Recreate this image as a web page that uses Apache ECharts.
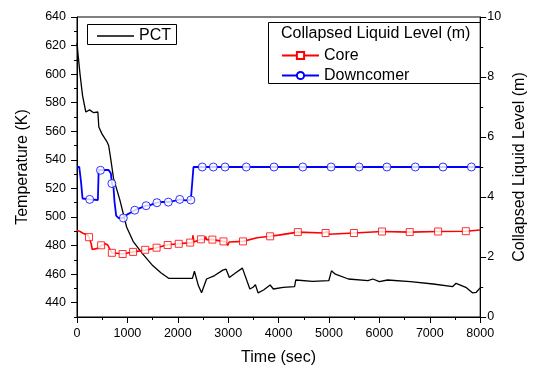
<!DOCTYPE html>
<html>
<head>
<meta charset="utf-8">
<script src="https://cdn.jsdelivr.net/npm/echarts@6/dist/echarts.min.js"></script>
<style>
html,body{margin:0;padding:0;background:#fff;}
#chart{width:536px;height:371px;}
</style>
</head>
<body>
<div id="chart"></div>
<script>
// ---- data ----
const pctTime = [0, 20, 60, 110, 175, 250, 330, 414, 433, 498, 590, 628, 660, 725, 850, 984, 1113, 1307, 1502, 1664, 1825, 2019, 2290, 2311, 2330, 2408, 2472, 2570, 2731, 2893, 2958, 3023, 3150, 3282, 3430, 3500, 3540, 3592, 3702, 3832, 3896, 4091, 4317, 4340, 4673, 4700, 4996, 5049, 5126, 5385, 5773, 5870, 6000, 6162, 6615, 6630, 6650, 7068, 7456, 7521, 7715, 7845, 7922, 8000];
const pctTemp = [622, 614, 600, 585, 573.5, 575, 573, 573.5, 563, 558, 553, 550, 543, 527, 512, 493, 483, 474, 466, 461, 457, 457, 457, 456.5, 462, 452, 447, 456.6, 459, 462.8, 463.5, 457.7, 461, 464.2, 449.6, 451, 452.7, 446.9, 448.9, 452.4, 449.6, 450.8, 451.3, 455.9, 455, 456, 455.4, 462.3, 460, 456.6, 455.4, 456.6, 454.7, 455.9, 454.7, 453.5, 455, 453.1, 451.3, 453.6, 450.8, 446.9, 447.3, 450.4];

const coreTime = [0, 60, 142, 200, 239, 280, 304, 330, 380, 430, 466, 520, 563, 610, 640, 660, 692, 906, 1113, 1359, 1579, 1799, 2019, 2246, 2290, 2300, 2320, 2459, 2530, 2550, 2570, 2686, 2906, 2950, 2990, 3020, 3294, 3573, 3832, 4000, 4382, 4900, 4960, 5000, 5495, 6052, 6602, 7165, 7715, 8000];
const coreLevel = [2.88, 2.85, 2.77, 2.75, 2.66, 2.45, 2.25, 2.23, 2.28, 2.30, 2.37, 2.42, 2.44, 2.40, 2.38, 2.23, 2.14, 2.10, 2.17, 2.23, 2.31, 2.41, 2.44, 2.48, 2.47, 2.72, 2.50, 2.59, 2.57, 2.68, 2.58, 2.58, 2.52, 2.50, 2.39, 2.50, 2.52, 2.64, 2.69, 2.73, 2.83, 2.80, 2.85, 2.76, 2.80, 2.85, 2.83, 2.85, 2.86, 2.90];
const coreMarkTime = [239, 479, 692, 906, 1113, 1353, 1579, 1799, 2019, 2246, 2459, 2686, 2906, 3294, 3832, 4382, 4932, 5495, 6052, 6602, 7165, 7715];
const coreMarkLevel = [2.66, 2.39, 2.14, 2.10, 2.17, 2.24, 2.31, 2.40, 2.44, 2.48, 2.59, 2.58, 2.52, 2.52, 2.69, 2.83, 2.80, 2.80, 2.85, 2.83, 2.85, 2.86];

const downTime = [0, 45, 80, 110, 123, 250, 414, 430, 466, 628, 650, 673, 692, 725, 744, 777, 822, 919, 1000, 1081, 1146, 1372, 1450, 1586, 1700, 1812, 1950, 2039, 2150, 2259, 2291, 2311, 2350, 2485, 8000];
const downLevel = [5.0, 5.0, 4.5, 3.95, 3.92, 3.92, 3.90, 4.90, 4.89, 4.90, 4.85, 4.78, 4.45, 4.30, 3.85, 3.38, 3.30, 3.30, 3.42, 3.49, 3.56, 3.71, 3.73, 3.81, 3.84, 3.83, 3.88, 3.92, 3.89, 3.90, 3.91, 5.00, 4.96, 5.0, 5.0];
const downMarkTime = [252, 466, 692, 919, 1146, 1372, 1586, 1812, 2039, 2259, 2485, 2705, 2938, 3359, 3909, 4479, 5042, 5598, 6149, 6712, 7262, 7825];
const downMarkLevel = [3.92, 4.89, 4.45, 3.30, 3.56, 3.71, 3.81, 3.83, 3.92, 3.90, 5, 5, 5, 5, 5, 5, 5, 5, 5, 5, 5, 5];

// tick values
const tempTicks = [440, 460, 480, 500, 520, 540, 560, 580, 600, 620, 640];
const tempMinorTicks = [430, 450, 470, 490, 510, 530, 550, 570, 590, 610, 630];
const levelTicks = [0, 2, 4, 6, 8, 10];
const timeTicks = [0, 1000, 2000, 3000, 4000, 5000, 6000, 7000, 8000];

const FONT = 'Liberation Sans, Arial, sans-serif';
const RED = '#ff0000', BLUE = '#0000ff';
const zip = (a, b) => a.map((v, i) => [v, b[i]]);

const chart = echarts.init(document.getElementById('chart'), null, {renderer: 'canvas'});
const axisCommon = {
  axisLine: {show: true, lineStyle: {color: '#000', width: 1}},
  axisTick: {show: true, length: 6, lineStyle: {color: '#000', width: 1}},
  axisLabel: {color: '#000', fontSize: 12.5, fontFamily: FONT, formatter: (v) => String(v)},
  splitLine: {show: false},
  nameTextStyle: {color: '#000', fontSize: 16, fontFamily: FONT}
};

const option = {
  animation: false,
  backgroundColor: '#fff',
  grid: {left: 77, right: 48, top: 17, bottom: 50, show: true, borderColor: '#000', borderWidth: 1, backgroundColor: 'transparent'},
  xAxis: Object.assign({}, axisCommon, {
    type: 'value', min: timeTicks[0], max: timeTicks[timeTicks.length - 1], interval: 1000,
    name: 'Time (sec)', nameLocation: 'middle', nameGap: 33,
    axisLabel: Object.assign({}, axisCommon.axisLabel, {margin: 10}),
    minorTick: {show: true, splitNumber: 2, length: 3, lineStyle: {color: '#000'}}
  }),
  yAxis: [
    Object.assign({}, axisCommon, {
      type: 'value', position: 'left', min: 430, max: 640,
      name: 'Temperature (K)', nameLocation: 'middle', nameGap: 46,
      axisTick: {show: true, length: 6, customValues: tempTicks, lineStyle: {color: '#000'}},
      axisLabel: Object.assign({}, axisCommon.axisLabel, {margin: 11, customValues: tempTicks})
    }),
    Object.assign({}, axisCommon, {
      type: 'value', position: 'right', min: levelTicks[0], max: levelTicks[levelTicks.length - 1], interval: 2,
      name: 'Collapsed Liquid Level (m)', nameLocation: 'middle', nameGap: 25,
      axisLabel: Object.assign({}, axisCommon.axisLabel, {margin: 7}),
      minorTick: {show: true, splitNumber: 2, length: 3, lineStyle: {color: '#000'}}
    }),
    {
      type: 'value', position: 'left', min: 430, max: 640,
      axisLine: {show: false}, axisLabel: {show: false}, splitLine: {show: false},
      axisTick: {show: true, length: 3, customValues: tempMinorTicks, lineStyle: {color: '#000'}}
    }
  ],
  legend: [
    {
      data: [{name: 'PCT', icon: 'rect'}], left: 97, top: 28, orient: 'horizontal',
      itemWidth: 37, itemHeight: 1.5, padding: 0,
      textStyle: {color: '#000', fontSize: 16, fontFamily: FONT}
    },
    {
      data: ['Core', 'Downcomer'],
      left: 281, top: 47.5, orient: 'vertical',
      itemWidth: 37, itemHeight: 9, itemGap: 4, padding: 0,
      textStyle: {color: '#000', fontSize: 16, fontFamily: FONT, lineHeight: 16}
    }
  ],
  graphic: [
    {type: 'rect', shape: {x: 87.5, y: 24.5, width: 89, height: 20}, style: {fill: 'none', stroke: '#000', lineWidth: 1}, z: 100},
    {type: 'rect', shape: {x: 268.5, y: 22.5, width: 212, height: 61}, style: {fill: 'none', stroke: '#000', lineWidth: 1}, z: 100},
    {type: 'text', x: 281, y: 33.5, style: {text: 'Collapsed Liquid Level (m)', fill: '#000', font: '16px ' + FONT, textVerticalAlign: 'middle'}, z: 100}
  ],
  series: [
    {
      name: 'PCT', type: 'line', xAxisIndex: 0, yAxisIndex: 0, data: zip(pctTime, pctTemp),
      symbol: 'none', showSymbol: false, lineStyle: {color: '#000', width: 1.3}, itemStyle: {color: '#000'}, z: 3
    },
    {
      name: 'Core', type: 'line', xAxisIndex: 0, yAxisIndex: 1, data: zip(coreTime, coreLevel),
      symbol: 'rect', showSymbol: false, lineStyle: {color: RED, width: 1.6},
      itemStyle: {color: '#fff', borderColor: RED, borderWidth: 1}, z: 4
    },
    {
      name: 'Downcomer', type: 'line', xAxisIndex: 0, yAxisIndex: 1, data: zip(downTime, downLevel),
      symbol: 'circle', showSymbol: false, lineStyle: {color: BLUE, width: 1.8},
      itemStyle: {color: '#fff', borderColor: BLUE, borderWidth: 1}, z: 4
    },
    {
      name: 'Core', type: 'scatter', xAxisIndex: 0, yAxisIndex: 1, data: zip(coreMarkTime, coreMarkLevel),
      symbol: 'rect', symbolSize: 7,
      itemStyle: {color: '#fff', borderColor: RED, borderWidth: 1}, z: 5
    },
    {
      name: 'Downcomer', type: 'scatter', xAxisIndex: 0, yAxisIndex: 1, data: zip(downMarkTime, downMarkLevel),
      symbol: 'circle', symbolSize: 8,
      itemStyle: {color: '#fff', borderColor: BLUE, borderWidth: 1}, z: 5
    }
  ]
};
chart.setOption(option);
</script>
</body>
</html>
